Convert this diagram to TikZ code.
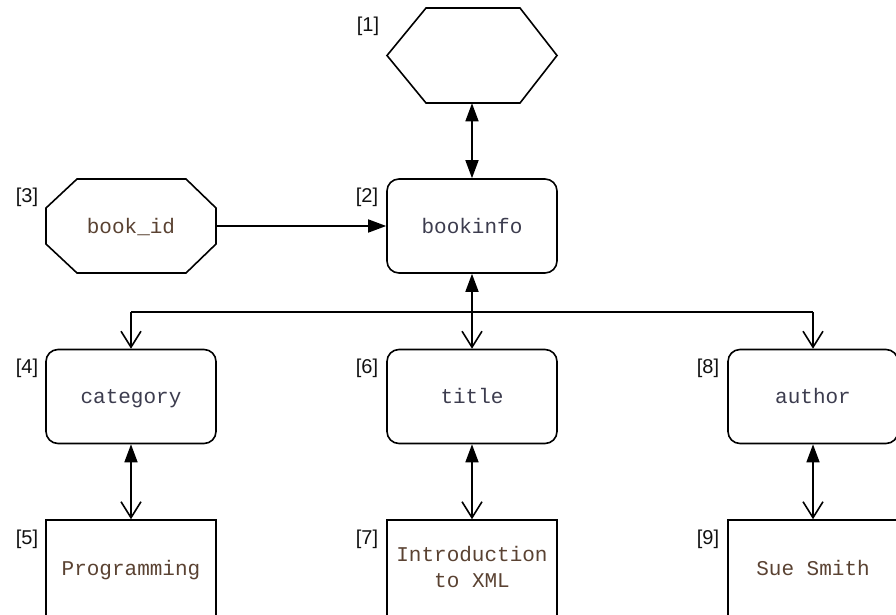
\documentclass[tikz,border=0pt]{standalone}
\usepackage{fontspec}
\setmainfont{Liberation Sans}
\newfontfamily\codefont{Liberation Mono}
\usetikzlibrary{arrows.meta,calc}
\definecolor{elemtext}{HTML}{3C3C4E}
\definecolor{valtext}{HTML}{5A4232}
\definecolor{lbltext}{HTML}{111111}

\begin{document}
\begin{tikzpicture}[x=1pt,y=-1pt,line width=1.6pt,
  box/.style={minimum width=170pt,minimum height=94pt,inner sep=0pt,
    font=\codefont\fontsize{21}{26}\selectfont,align=center,
    text height=19pt,text depth=5pt},
  elembox/.style={box,draw,rounded corners=12pt,text=elemtext},
  valbox/.style={box,draw,text=valtext,minimum height=96pt},
  polybox/.style={box,text=valtext},
  polyline/.style={line join=miter},
  lbl/.style={font=\fontsize{20}{24}\selectfont,text=lbltext,inner sep=0pt},
  tipfill/.tip={Triangle[length=18pt,width=13pt]},
  tipopen/.tip={Straight Barb[length=16pt,width=20pt,line width=1.6pt]},
]
\useasboundingbox (0,0) rectangle (896,614);

% top-level nodes
\node[polybox] (root) at (472,55.5) {};
\node[polybox] (bookid) at (131,226) {book\_id};
\node[elembox] (info) at (472,226) {bookinfo};

% hexagon and octagon outlines
\draw[polyline] ($(root)+(-85,0)$) -- ($(root)+(-46,-47.5)$) -- ($(root)+(48,-47.5)$)
  -- ($(root)+(85,0)$) -- ($(root)+(48,47.5)$) -- ($(root)+(-46,47.5)$) -- cycle;
\draw[polyline] ($(bookid)+(-85,-18)$) -- ($(bookid)+(-54,-47)$) -- ($(bookid)+(55,-47)$)
  -- ($(bookid)+(85,-18)$) -- ($(bookid)+(85,18)$) -- ($(bookid)+(55,47)$)
  -- ($(bookid)+(-54,47)$) -- ($(bookid)+(-85,18)$) -- cycle;

% child elements
\node[elembox] (cat) at (131,396.5) {category};
\node[elembox] (title) at (472,396.5) {title};
\node[elembox] (author) at (813,396.5) {author};

% text values
\node[valbox] (prog) at (131,568) {Programming};
\node[valbox,text height=44pt] (intro) at (472,568) {Introduction\\to XML};
\node[valbox] (sue) at (813,568) {Sue Smith};

% index labels
\node[lbl] (l1) at (368,26) {[1]};
\node[lbl] (l2) at (367,197) {[2]};
\node[lbl] (l3) at (27,197) {[3]};
\node[lbl] (l4) at (27,368) {[4]};
\node[lbl] (l5) at (27,539) {[5]};
\node[lbl] (l6) at (367,368) {[6]};
\node[lbl] (l7) at (367,539) {[7]};
\node[lbl] (l8) at (708,368) {[8]};
\node[lbl] (l9) at (708,539) {[9]};

% connectors
\coordinate (busL) at (131,312);
\coordinate (busR) at (813,312);
\draw[tipfill-tipfill] (root) -- (info);
\draw[-tipfill] (bookid) -- (info);
\draw (busL) -- (busR);
\draw[tipfill-tipopen] (info) -- (title);
\draw[-tipopen] (busL) -- (cat);
\draw[-tipopen] (busR) -- (author);
\draw[tipfill-tipopen] (cat) -- (prog);
\draw[tipfill-tipopen] (title) -- (intro);
\draw[tipfill-tipopen] (author) -- (sue);
\end{tikzpicture}
\end{document}
